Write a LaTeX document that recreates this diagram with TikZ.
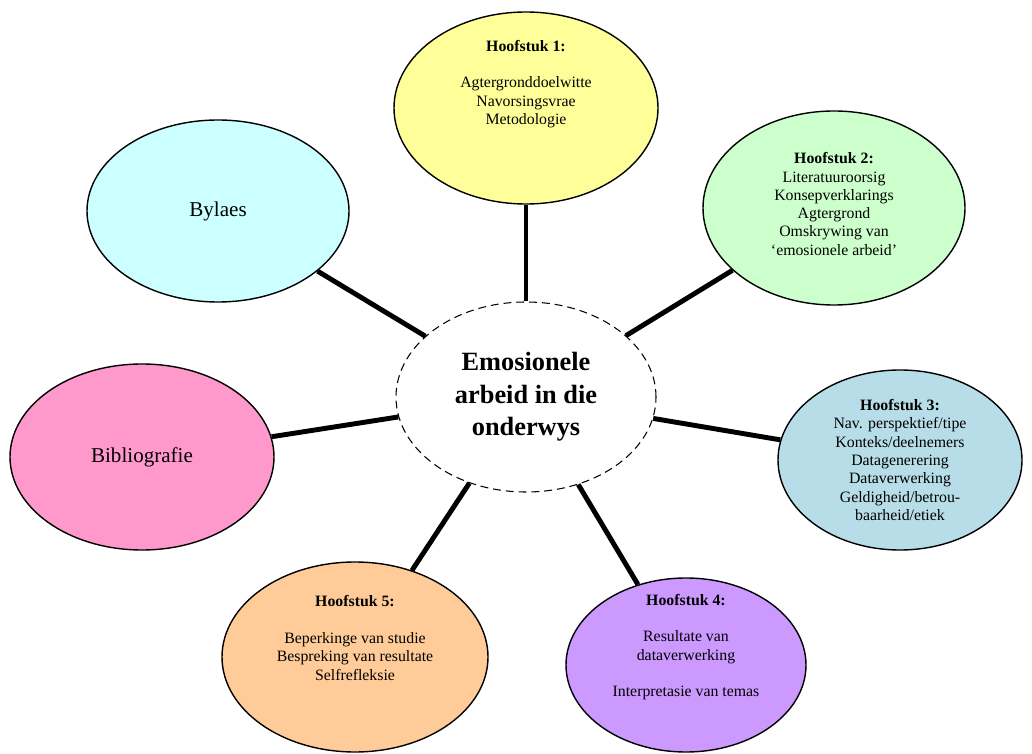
\documentclass[tikz,border=0pt]{standalone}
\usepackage{fontspec}
\setmainfont{Liberation Serif}
\usepackage{tikz}
\usetikzlibrary{shapes,positioning,calc,shapes.geometric}

\definecolor{hyellow}{RGB}{255,255,153}
\definecolor{hgreen}{RGB}{204,255,204}
\definecolor{hteal}{RGB}{183,222,232}
\definecolor{hpurple}{RGB}{204,153,255}
\definecolor{horange}{RGB}{255,204,153}
\definecolor{hpink}{RGB}{255,153,204}
\definecolor{hcyan}{RGB}{204,255,255}

\begin{document}
\begin{tikzpicture}[
    chapter/.style={ellipse, draw, line width=0.8pt, inner sep=0pt, font=\fontsize{12}{14}\selectfont},
    txt/.style={align=center, inner sep=0pt, font=\fontsize{9}{10.4}\selectfont},
    hub/.style={ellipse, draw, dashed, dash pattern=on 4.5pt off 2.8pt, line width=0.6pt, inner sep=0pt, minimum width=5.2cm, minimum height=3.8cm, align=center, font=\fontsize{15}{18.6}\selectfont\bfseries},
    spoke/.style={line width=2.8pt}
]
    \useasboundingbox (0,0) rectangle (20.64,-15.08);

    % Central topic
    \node[hub] (main) at (10.52,-7.94) {Emosionele\\arbeid in die\\onderwys};

    % Chapters
    \node[chapter, fill=hyellow, minimum width=5.28cm, minimum height=3.84cm] (h1) at (10.52,-2.16) {};
    \node[chapter, fill=hgreen, minimum width=5.24cm, minimum height=3.88cm] (h2) at (16.68,-4.16) {};
    \node[chapter, fill=hteal, minimum width=4.88cm, minimum height=3.6cm] (h3) at (18.0,-9.2) {};
    \node[chapter, fill=hpurple, minimum width=4.8cm, minimum height=3.48cm] (h4) at (13.72,-13.3) {};
    \node[chapter, fill=horange, minimum width=5.32cm, minimum height=3.8cm] (h5) at (7.1,-13.14) {};
    \node[chapter, fill=hpink, minimum width=5.28cm, minimum height=3.72cm] (bib) at (2.84,-9.14) {Bibliografie};
    \node[chapter, fill=hcyan, minimum width=5.24cm, minimum height=3.64cm] (bylaes) at (4.36,-4.22) {Bylaes};

    % Chapter contents
    \node[txt] (h1txt) at ([yshift=4.8mm]h1.center) {\textbf{Hoofstuk 1:}\\[10.4pt]Agtergronddoelwitte\\Navorsingsvrae\\Metodologie};
    \node[txt] (h2txt) at ([yshift=0.8mm]h2.center) {\textbf{Hoofstuk 2:}\\Literatuuroorsig\\Konsepverklarings\\Agtergrond\\Omskrywing van\\`emosionele arbeid'};
    \node[txt] (h3txt) at (h3.center) {\textbf{Hoofstuk 3:}\\Nav. perspektief/tipe\\Konteks/deelnemers\\Datagenerering\\Dataverwerking\\Geldigheid/betrou-\\baarheid/etiek};
    \node[txt] (h4txt) at ([yshift=3.6mm]h4.center) {\textbf{Hoofstuk 4:}\\[10.4pt]Resultate van\\dataverwerking\\[10.4pt]Interpretasie van temas};
    \node[txt] (h5txt) at ([yshift=3.8mm]h5.center) {\textbf{Hoofstuk 5:}\\[10.4pt]Beperkinge van studie\\Bespreking van resultate\\Selfrefleksie};

    % Connections
    \draw[spoke] (h1) -- (main);
    \draw[spoke] (h2) -- (main);
    \draw[spoke] (h3) -- (main);
    \draw[spoke] (h4) -- (main);
    \draw[spoke] (h5) -- (main);
    \draw[spoke] (bib) -- (main);
    \draw[spoke] (bylaes) -- (main);
\end{tikzpicture}
\end{document}
